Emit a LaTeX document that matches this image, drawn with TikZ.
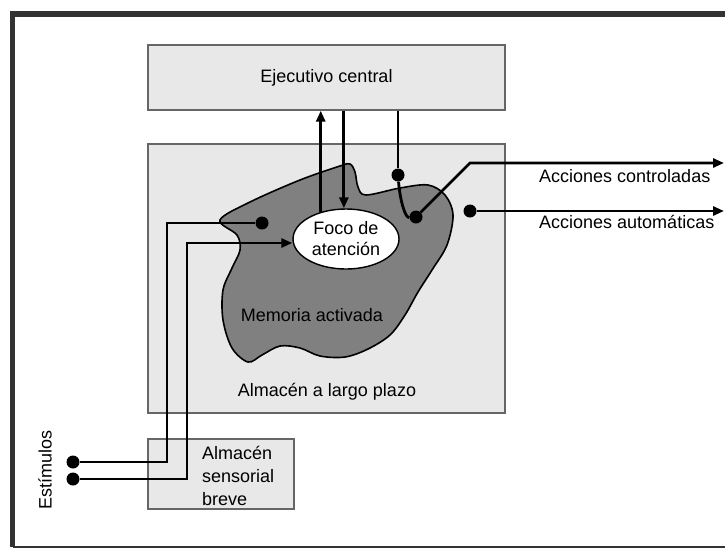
\documentclass[tikz,border=0pt]{standalone}
\usepackage{fontspec}
\setmainfont{Liberation Sans}
\usetikzlibrary{arrows.meta,shapes.geometric}
\definecolor{boxgray}{HTML}{E8E8E8}
\definecolor{blobgray}{HTML}{808080}
\definecolor{framegray}{HTML}{333333}
\tikzset{
  box/.style={draw=black!60, line width=1.4pt, fill=boxgray, inner sep=0pt},
  dot/.style={circle, fill, inner sep=0pt, minimum size=13pt},
  wire/.style={line width=2.8pt},
}
\begin{document}
\begin{tikzpicture}[x=1pt,y=-1pt,>={Triangle[length=11pt,width=9pt]}]
    \fontsize{18}{22}\selectfont
    \useasboundingbox (0,0) rectangle (725,550);
    \draw[framegray, line width=5.5pt] (725,14) -- (12.5,14) -- (12.5,547);
    \draw[framegray, line width=2pt] (12.5,547) -- (725,547);

    \node[box, minimum width=357pt, minimum height=65pt]  (E) at (326.5,77.5) {Ejecutivo central};
    \node[box, minimum width=357pt, minimum height=269pt] (L) at (326.5,278.5) {};
    \node[box, minimum width=146pt, minimum height=70pt]  (S) at (221,474) {};
    \node (Lt) at (327,392) {Almacén a largo plazo};
    \node[anchor=west, align=left, font=\fontsize{18}{23}\selectfont] (St) at (196,476) {Almacén\\sensorial\\breve};
    \node[rotate=90] (stim) at (45,470) {Estímulos};

    % memoria activada
    \draw[fill=blobgray, line width=1.6pt] plot[smooth cycle, tension=0.55] coordinates {
        (220,220) (250,202) (300,180) (340,166) (350,164) (355,172) (358,187) (366,195)
        (400,188) (428,185) (445,195) (453,215) (447,245) (432,270) (418,292) (405,315)
        (390,335) (368,349) (345,357) (320,356) (300,348) (280,346) (262,355) (248,362)
        (232,348) (223,320) (223,290) (232,268) (240,250) (237,235)};
    \node (M) at (312,315) {Memoria activada};
    \node[ellipse, draw, fill=white, line width=1.4pt, minimum width=106pt, minimum height=60pt,
          inner sep=0pt, align=center, font=\fontsize{18}{21}\selectfont] (F) at (346,239) {Foco de\\atención};

    \node[dot] (s1) at (73,462) {};
    \node[dot] (s2) at (73,479) {};
    \node[dot] (m1) at (262,223) {};
    \node[dot] (c1) at (398,175) {};
    \node[dot] (c2) at (416,217) {};
    \node[dot] (a1) at (470,211) {};
    \coordinate (b1) at (167,223);
    \coordinate (b2) at (187,243);
    \coordinate (k)  at (470,163);
    \coordinate (ac) at (724,163);
    \coordinate (aa) at (724,211);

    \draw[wire]     (s1) -| (b1) -- (m1);
    \draw[wire, ->] (s2) -| (b2) -- (b2 -| F.west);
    \draw[wire, ->] (F.133) -- (F.133 |- E.south);
    \draw[wire, ->] (F.94 |- E.south) -- (F.94);
    \draw[wire]     (c1 |- E.south) -- (c1);
    \draw[wire]     (c1) .. controls (400,200) and (405,218) .. (c2);
    \draw[wire, ->] (c2) -- (k) -- (ac);
    \draw[wire, ->] (a1) -- (aa);

    \node[anchor=west] (ct) at (533,176) {Acciones controladas};
    \node[anchor=west] (at) at (533,222) {Acciones automáticas};
\end{tikzpicture}
\end{document}
